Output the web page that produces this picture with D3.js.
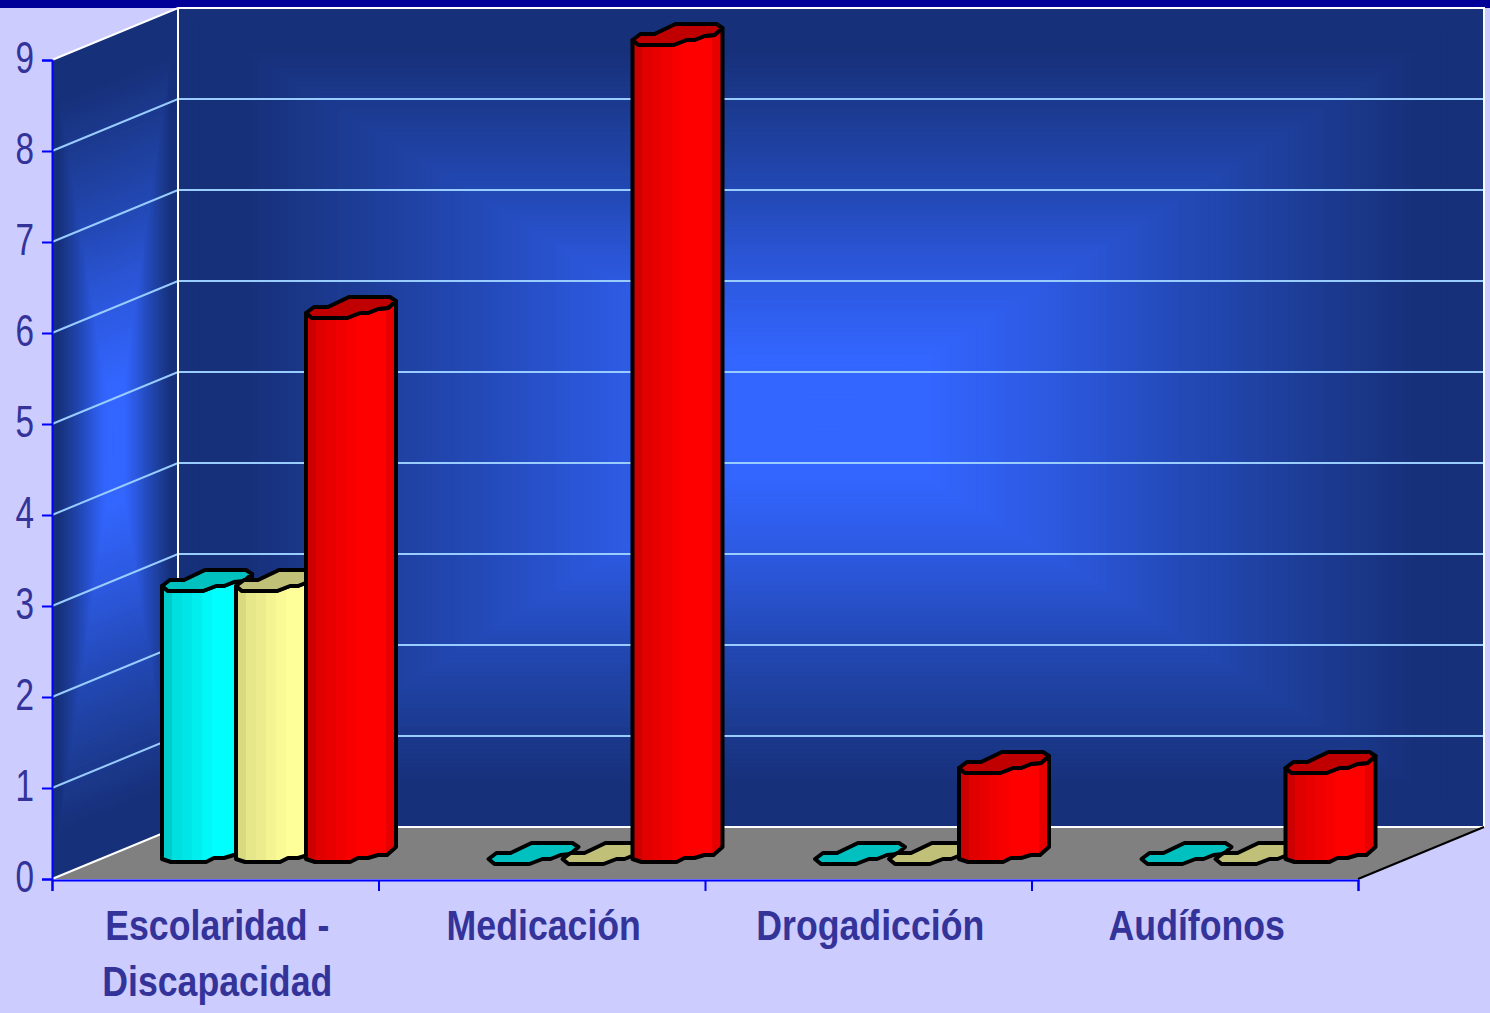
<!DOCTYPE html>
<html>
<head>
<meta charset="utf-8">
<style>
  body { margin: 0; background: #ccccff; }
  svg { display: block; }
  .tick-label { font-family: "Liberation Sans", sans-serif; fill: #333399; }
</style>
</head>
<body>
<svg width="1490" height="1013"></svg>
<script src="https://cdn.jsdelivr.net/npm/d3@7"></script>
<script>
// Chart values
var categories = [["Escolaridad -", "Discapacidad"], ["Medicación"], ["Drogadicción"], ["Audífonos"]];
var seriesNames = ["cyan", "yellow", "red"];
var cyanValues = [3, 0, 0, 0];
var yellowValues = [3, 0, 0, 0];
var redValues = [6, 9, 1, 1];
var yTicks = [0, 1, 2, 3, 4, 5, 6, 7, 8, 9];

// Settings of the 3D box
var svg = d3.select("svg"),
    left = 52, right = 1358, bottom = 879, top9 = 60,
    depthX = 126, depthY = 52,
    barLift = 20;

var y = d3.scaleLinear().domain([0, 9]).range([bottom, top9]);
var x0 = d3.scaleBand().domain(d3.range(categories.length)).range([left, right]);
var x1 = d3.scaleOrdinal().domain(seriesNames).range([110, 184, 254]);

var valuesBySeries = {cyan: cyanValues, yellow: yellowValues, red: redValues};
var capColor = {cyan: "#00c0c0", yellow: "#c0c078", red: "#c00000"};
var sideSteps = {
  cyan: ["#00cccc", "#00dfdf", "#00e6e6", "#00eeee", "#00f8f8", "#00ffff", "#00ffff", "#00ffff", "#00f4f4"],
  yellow: ["#d9d980", "#e6e68a", "#ecec8e", "#f4f492", "#fafa96", "#ffff99", "#ffff99", "#ffff99", "#f4f492"],
  red: ["#cc0000", "#e00000", "#e80000", "#f00000", "#f80000", "#ff0000", "#ff0000", "#ff0000", "#e60000"]
};

// Outline of a bar, in pixels from its left point
var capOutline = [[0, 0], [8, -6], [22, -6], [43, -16], [84, -16], [90, -12], [82, -5], [72, -4], [62, 0], [54, 0], [41, 5], [6, 5]];
var capFront = [[0, 0], [6, 5], [41, 5], [54, 0], [62, 0], [72, -4], [82, -5], [90, -12]];
var baseFront = [[90, -12], [81, -4], [72, -4], [62, -1], [52, -1], [44, 3], [9, 3], [0, 0]];

var defs = svg.append("defs");
var line = d3.line();

// Gradient of the walls: nested rectangles going to a bright centre
var wallColor = d3.scaleLinear()
  .domain([0, 0.15, 0.33, 0.55, 0.75, 0.9, 1])
  .range(["#3366ff", "#3366ff", "#2d5ae2", "#2349b6", "#1c3b92", "#17307a", "#17307a"]);

function drawWall(matrix) {
  var wall = svg.append("g").attr("transform", "matrix(" + matrix.join(",") + ")");
  wall.selectAll("rect")
    .data(d3.range(1, 0, -1 / 90))
    .enter()
    .append("rect")
    .attr("x", function(t) { return 0.5 - t / 2; })
    .attr("y", function(t) { return 0.5 - t / 2; })
    .attr("width", function(t) { return t; })
    .attr("height", function(t) { return t; })
    .attr("fill", function(t) { return wallColor(t); });
}

svg.append("rect").attr("width", 1490).attr("height", 1013).attr("fill", "#ccccff");
svg.append("rect").attr("width", 1490).attr("height", 8).attr("fill", "#000099");

// Back wall and side wall
var wallHeight = y(0) - y(9);
drawWall([right - left, 0, 0, wallHeight, left + depthX, y(9) - depthY]);
drawWall([depthX, -depthY, 0, wallHeight, left, y(9)]);

// Floor
svg.append("path")
  .attr("d", line([[left, y(0)], [left + depthX, y(0) - depthY], [right + depthX, y(0) - depthY], [right, y(0)]]) + "Z")
  .attr("fill", "#808080");

// Gridlines on both walls
var grid = yTicks.filter(function(d) { return d > 0 && d < 9; });
svg.selectAll(".grid")
  .data(grid)
  .enter()
  .append("path")
  .attr("class", "grid")
  .attr("d", function(d) {
    return line([[left, y(d)], [left + depthX, y(d) - depthY], [right + depthX, y(d) - depthY]]);
  })
  .attr("fill", "none")
  .attr("stroke", "#99ccff")
  .attr("stroke-width", 2);

// Wall frame
svg.append("path")
  .attr("d", line([[left, y(9)], [left + depthX, y(9) - depthY], [right + depthX, y(9) - depthY], [right + depthX, y(0) - depthY], [left + depthX, y(0) - depthY], [left, y(0)]]))
  .attr("fill", "none")
  .attr("stroke", "#ffffff")
  .attr("stroke-width", 2);
svg.append("path")
  .attr("d", line([[left + depthX, y(9) - depthY], [left + depthX, y(0) - depthY]]))
  .attr("stroke", "#ffffff")
  .attr("stroke-width", 2);
svg.append("path")
  .attr("d", line([[right, y(0)], [right + depthX, y(0) - depthY]]))
  .attr("stroke", "#000000")
  .attr("stroke-width", 2);

// Stepped gradients of the bars
seriesNames.forEach(function(name) {
  var steps = sideSteps[name];
  var grad = defs.append("linearGradient").attr("id", "side-" + name);
  steps.forEach(function(c, i) {
    grad.append("stop").attr("offset", i / steps.length).attr("stop-color", c);
    grad.append("stop").attr("offset", (i + 1) / steps.length).attr("stop-color", c);
  });
});

// Bars, from left to right so the later one covers the earlier one
var bars = [];
categories.forEach(function(c, i) {
  seriesNames.forEach(function(name) {
    bars.push({cat: i, name: name, value: valuesBySeries[name][i]});
  });
});

function shift(points, px, py) {
  return points.map(function(p) { return [px + p[0], py + p[1]]; });
}

var bar = svg.selectAll(".bar")
  .data(bars)
  .enter()
  .append("g")
  .attr("class", "bar")
  .attr("stroke", "#000000")
  .attr("stroke-width", 4)
  .attr("stroke-linejoin", "round");

bar.filter(function(d) { return d.value > 0; })
  .append("path")
  .attr("d", function(d) {
    var px = x0(d.cat) + x1(d.name);
    return line(shift(capFront, px, y(d.value) - barLift).concat(shift(baseFront, px, y(0) - barLift))) + "Z";
  })
  .attr("fill", function(d) { return "url(#side-" + d.name + ")"; });

bar.append("path")
  .attr("d", function(d) {
    return line(shift(capOutline, x0(d.cat) + x1(d.name), y(d.value) - barLift)) + "Z";
  })
  .attr("fill", function(d) { return capColor[d.name]; });

// Y axis
var yAxis = svg.append("g")
  .attr("transform", "translate(" + left + ",0)")
  .call(d3.axisLeft(y).tickValues(yTicks).tickSize(10));
yAxis.selectAll("line, path").attr("stroke", "#0000ff").attr("stroke-width", 2);
// the digits are squeezed sideways in the original
yAxis.selectAll("text")
  .attr("class", "tick-label")
  .attr("x", 0)
  .attr("dy", "0.27em")
  .attr("transform", "translate(-18,0) scale(0.74,1)")
  .style("font-size", "45px");

// X axis, ticks sit between the categories
var xEdges = d3.range(categories.length + 1);
var xLinear = d3.scaleLinear().domain([0, categories.length]).range([left, right]);
var xAxis = svg.append("g")
  .attr("transform", "translate(0," + (bottom + 1) + ")")
  .call(d3.axisBottom(xLinear).tickValues(xEdges).tickSize(11).tickFormat(""));
xAxis.selectAll("line, path").attr("stroke", "#0000ff").attr("stroke-width", 2);

// Category labels
svg.selectAll(".cat")
  .data(categories)
  .enter()
  .append("text")
  .attr("class", "cat tick-label")
  .attr("text-anchor", "middle")
  .attr("transform", function(d, i) {
    return "translate(" + (x0(i) + x0.bandwidth() / 2 + 2) + ",0) scale(0.83,1)";
  })
  .style("font-size", "43px")
  .style("font-weight", "bold")
  .selectAll("tspan")
  .data(function(d) { return d; })
  .enter()
  .append("tspan")
  .attr("x", 0)
  .attr("y", function(d, i) { return 940 + i * 56; })
  .text(function(d) { return d; });
</script>
</body>
</html>
